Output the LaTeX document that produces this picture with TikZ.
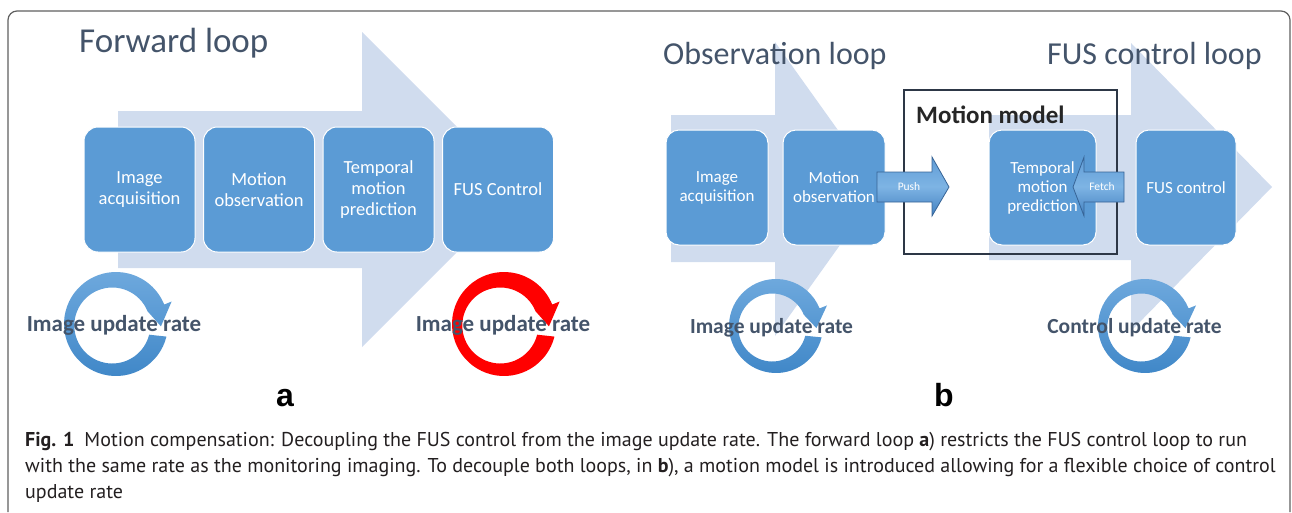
\documentclass[tikz,border=0pt]{standalone}
\usepackage{fontspec}
\setmainfont{Carlito}
\newfontfamily\capfont{PT Sans}
\newfontfamily\arialfont{Liberation Sans}
\definecolor{lightarrow}{RGB}{208,220,238}
\definecolor{boxblue}{RGB}{91,155,213}
\definecolor{titlegray}{RGB}{68,84,106}
\definecolor{framegray}{RGB}{95,95,95}
\definecolor{mmborder}{RGB}{45,55,70}
\definecolor{ringtop}{RGB}{112,170,222}
\definecolor{ringbot}{RGB}{62,134,199}
\definecolor{pushtop}{RGB}{96,156,214}
\definecolor{pushmid}{RGB}{126,180,228}
\definecolor{pushbot}{RGB}{66,128,192}
\definecolor{pushline}{RGB}{55,100,150}
\definecolor{captext}{RGB}{35,31,32}
\newcommand\cycring[5]{%
  \begin{scope}[shift={(#1,#2)}]
    \path[#5] (14:#3) arc[start angle=14,end angle=338,radius=#3]
      -- (338:{#3+8}) -- (3:{(#3+#4)/2}) -- (338:{#4-4})
      arc[start angle=338,end angle=14,radius=#4] -- cycle;
  \end{scope}}
\begin{document}
\begin{tikzpicture}[x=1pt,y=-1pt,
  bigarrow/.style={fill=lightarrow},
  boxa/.style={fill=boxblue, draw=white, line width=1pt, rounded corners=14pt,
    text=white, align=center, inner sep=0pt, minimum width=111pt, minimum height=125pt,
    font=\fontsize{18.5}{21}\selectfont},
  boxb/.style={fill=boxblue, draw=white, line width=1pt, rounded corners=13pt,
    text=white, align=center, inner sep=0pt, minimum height=115pt,
    font=\fontsize{17}{19}\selectfont},
  titletext/.style={anchor=base west, text=titlegray, inner sep=0pt},
  ratelabel/.style={anchor=base, text=titlegray, inner sep=0pt},
  panellabel/.style={anchor=base, inner sep=0pt, font=\arialfont\bfseries\fontsize{32}{36}\selectfont},
  smallarrow/.style={draw=pushline, line width=0.8pt, top color=pushtop, bottom color=pushbot, middle color=pushmid},
  captionline/.style={anchor=base west, inner sep=0pt, text=captext, font=\capfont\fontsize{20}{26}\selectfont},
  ringblue/.style={top color=ringtop, bottom color=ringbot},
  ringred/.style={fill=red}
]
\useasboundingbox (0,0) rectangle (1292,512);
% frame
\draw[framegray, line width=1.2pt, rounded corners=9pt] (8,512) -- (8,11) -- (1290,11) -- (1290,512);

% ===== panel a =====
\fill[bigarrow] (118,111) -- (362,111) -- (362,32) -- (519.5,189.5) -- (362,347) -- (362,268) -- (118,268) -- cycle;
\node[titletext, font=\fontsize{35}{40}\selectfont] (ftitle) at (79,52) {Forward loop};
\node[boxa] (a1) at (139.5,189.5) {Image\\acquisition};
\node[boxa] (a2) at (259,189.5) {Motion\\observation};
\node[boxa] (a3) at (378.5,189.5) {Temporal\\motion\\prediction};
\node[boxa] (a4) at (498,189.5) {FUS Control};
\cycring{116}{324}{52}{38}{ringblue}
\cycring{504}{324}{52}{38}{ringred}
\node[ratelabel, font=\bfseries\fontsize{23}{26}\selectfont] (ra1) at (114,331) {Image update rate};
\node[ratelabel, font=\bfseries\fontsize{23}{26}\selectfont] (ra2) at (503,331) {Image update rate};
\node[panellabel] (pa) at (285,406) {a};

% ===== panel b =====
\fill[bigarrow] (671,115) -- (775,115) -- (775,42) -- (880,189) -- (775,336) -- (775,262) -- (671,262) -- cycle;
\fill[bigarrow] (989,115) -- (1131,115) -- (1131,43) -- (1272,187) -- (1131,331) -- (1131,260) -- (989,260) -- cycle;
\node[titletext, font=\fontsize{32}{36}\selectfont] (otitle) at (663,64) {Observation loop};
\node[titletext, font=\fontsize{32}{36}\selectfont] (ctitle) at (1047,64) {FUS control loop};
\draw[mmborder, line width=2.5pt] (904,90) rectangle (1117,254);
\node[anchor=base west, inner sep=0pt, text=black!85, font=\bfseries\fontsize{25}{28}\selectfont] (mm) at (916,123) {Motion model};
\node[boxb, minimum width=102pt] (b1) at (717,187.5) {Image\\acquisition};
\node[boxb, minimum width=102pt] (b2) at (834,187.5) {Motion\\observation};
\node[boxb, minimum width=107pt] (b3) at (1042.5,187.5) {Temporal\\motion\\prediction};
\node[boxb, minimum width=100pt] (b4) at (1186,187.5) {FUS control};
\path[smallarrow] (877,172) -- (932,172) -- (932,157) -- (949,187) -- (932,216) -- (932,202) -- (877,202) -- cycle;
\path[smallarrow] (1124,172) -- (1084,172) -- (1084,157) -- (1073,187) -- (1084,216) -- (1084,202) -- (1124,202) -- cycle;
\node[text=white, inner sep=0pt, font=\fontsize{11.5}{13}\selectfont] (push) at (909,187) {Push};
\node[text=white, inner sep=0pt, font=\fontsize{11.5}{13}\selectfont] (fetch) at (1102,187) {Fetch};
\cycring{776}{326}{47}{34}{ringblue}
\cycring{1145}{326}{47}{34}{ringblue}
\node[ratelabel, font=\bfseries\fontsize{21.5}{24}\selectfont] (rb1) at (771.5,333) {Image update rate};
\node[ratelabel, font=\bfseries\fontsize{21.5}{24}\selectfont] (rb2) at (1134.5,333) {Control update rate};
\node[panellabel] (pb) at (944,406) {b};

% ===== caption =====
\node[captionline] (cap1) at (25,446) {\textbf{Fig. 1}\enspace Motion compensation: Decoupling the FUS control from the image update rate. The forward loop \textbf{a}) restricts the FUS control loop to run};
\node[captionline] (cap2) at (25,472) {with the same rate as the monitoring imaging. To decouple both loops, in \textbf{b}), a motion model is introduced allowing for a flexible choice of control};
\node[captionline] (cap3) at (25,498) {update rate};
\end{tikzpicture}
\end{document}
